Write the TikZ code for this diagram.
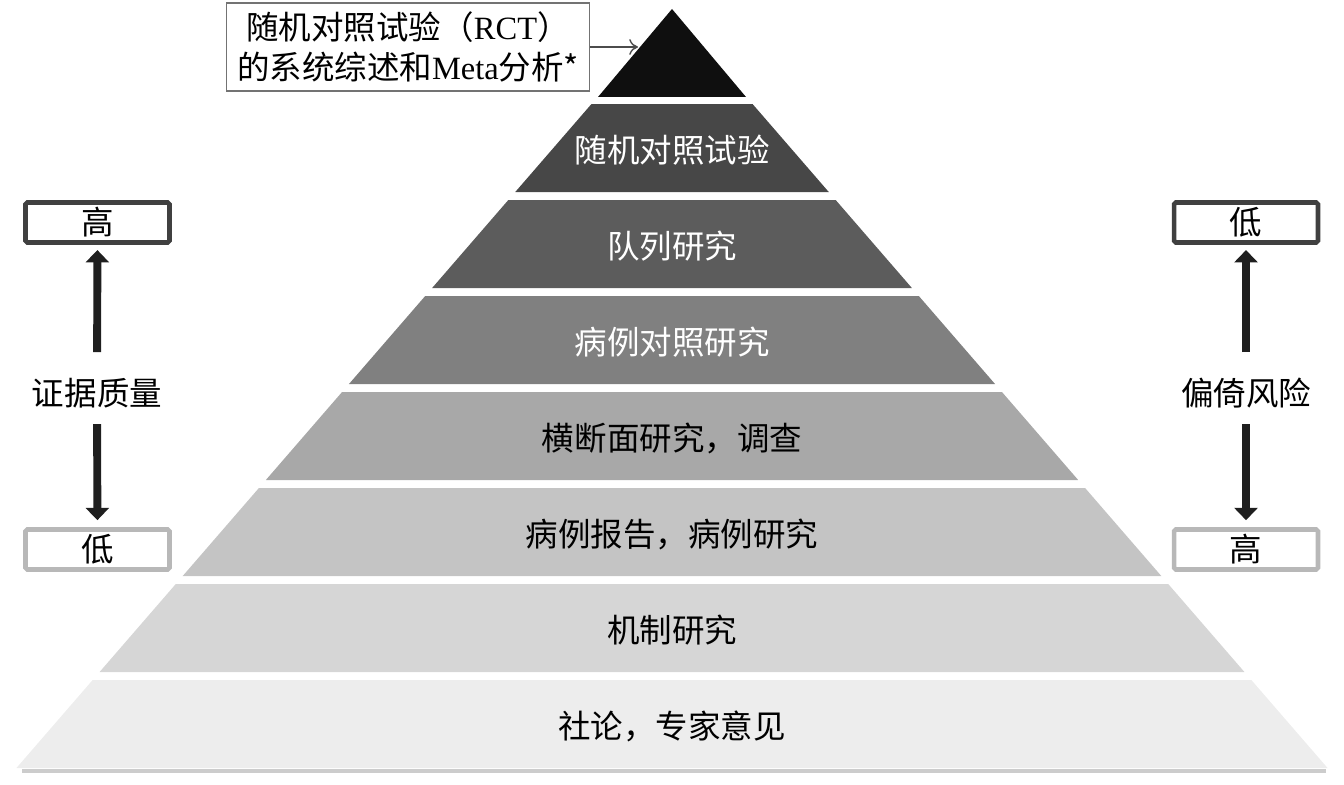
\documentclass[tikz,border=0pt]{standalone}
\usepackage{fontspec}
\setmainfont{Noto Sans CJK SC}
\newfontfamily\serifpart{Liberation Serif}
\usetikzlibrary{arrows.meta,positioning}

\tikzset{
  bandtext/.style={font=\fontsize{18.5}{22}\selectfont, inner sep=0pt},
  endbox/.style={draw, line width=2.6pt, rounded corners=1pt, minimum width=2.88cm,
    minimum height=0.8cm, inner sep=0pt, font=\fontsize{18.5}{22}\selectfont},
  sidetext/.style={font=\fontsize{18.5}{22}\selectfont, inner sep=0pt},
  fatarrow/.style={line width=4.5pt, black!88, -{Triangle[length=7pt,width=13pt]}},
}

\begin{document}
\begin{tikzpicture}[x=0.02cm, y=-0.02cm]
\useasboundingbox (0,0) rectangle (1344,784);

%%%% pyramid top
\fill[black!94] (672,9) -- (598,97) -- (746,97) -- cycle;

%%%% pyramid bands
\foreach \n/\yt/\fc/\tc/\txt in {
    1/104/black!72/white/随机对照试验,
    2/200/black!64/white/队列研究,
    3/296/black!50/white/病例对照研究,
    4/392/black!34/black/横断面研究，调查,
    5/488/black!23/black/病例报告，病例研究,
    6/584/black!16/black/机制研究,
    7/680/black!7/black/社论，专家意见}
{
  \pgfmathsetmacro\yb{\yt+88}
  \pgfmathsetmacro\wt{0.866*(\yt-11)}
  \pgfmathsetmacro\wb{0.866*(\yb-11)}
  \fill[\fc] (672-\wt,\yt) -- (672+\wt,\yt) -- (672+\wb,\yb) -- (672-\wb,\yb) -- cycle;
  \node[bandtext, text=\tc] (band\n) at (672,\yt+46) {\txt};
}
%%%% shadow under the base
\fill[black!20] (22,769) rectangle (1326,773);

%%%% label of the top
\node[draw=black!55, line width=1pt, minimum width=7.26cm, minimum height=1.76cm,
  align=center, font=\fontsize{18.5}{22.7}\selectfont] (rctbox) at (408,47)
  {随机对照试验（{\serifpart RCT}）\\的系统综述和{\serifpart Meta}分析*};
\coordinate (apexhit) at (638,47);
\draw[-{To[length=5pt,width=9pt]}, black!70, line width=0.8pt] (rctbox.east) -- (apexhit);

%%%% quality of evidence
\node[endbox, draw=black!75] (qhigh) at (97.5,222.5) {高};
\node[endbox, draw=black!28] (qlow) at (97.5,549.5) {低};
\node[sidetext] (qlabel) at (97,393) {证据质量};
\draw[fatarrow, shorten <=14.5pt, shorten >=3pt] (qlabel) -- (qhigh);
\draw[fatarrow, shorten <=9pt, shorten >=4pt] (qlabel) -- (qlow);

%%%% risk of bias
\node[endbox, draw=black!75] (rlow) at (1246,222.5) {低};
\node[endbox, draw=black!28] (rhigh) at (1246,549.5) {高};
\node[sidetext] (rlabel) at (1246,393) {偏倚风险};
\draw[fatarrow, shorten <=14.5pt, shorten >=3pt] (rlabel) -- (rlow);
\draw[fatarrow, shorten <=9pt, shorten >=4pt] (rlabel) -- (rhigh);

\end{tikzpicture}
\end{document}
